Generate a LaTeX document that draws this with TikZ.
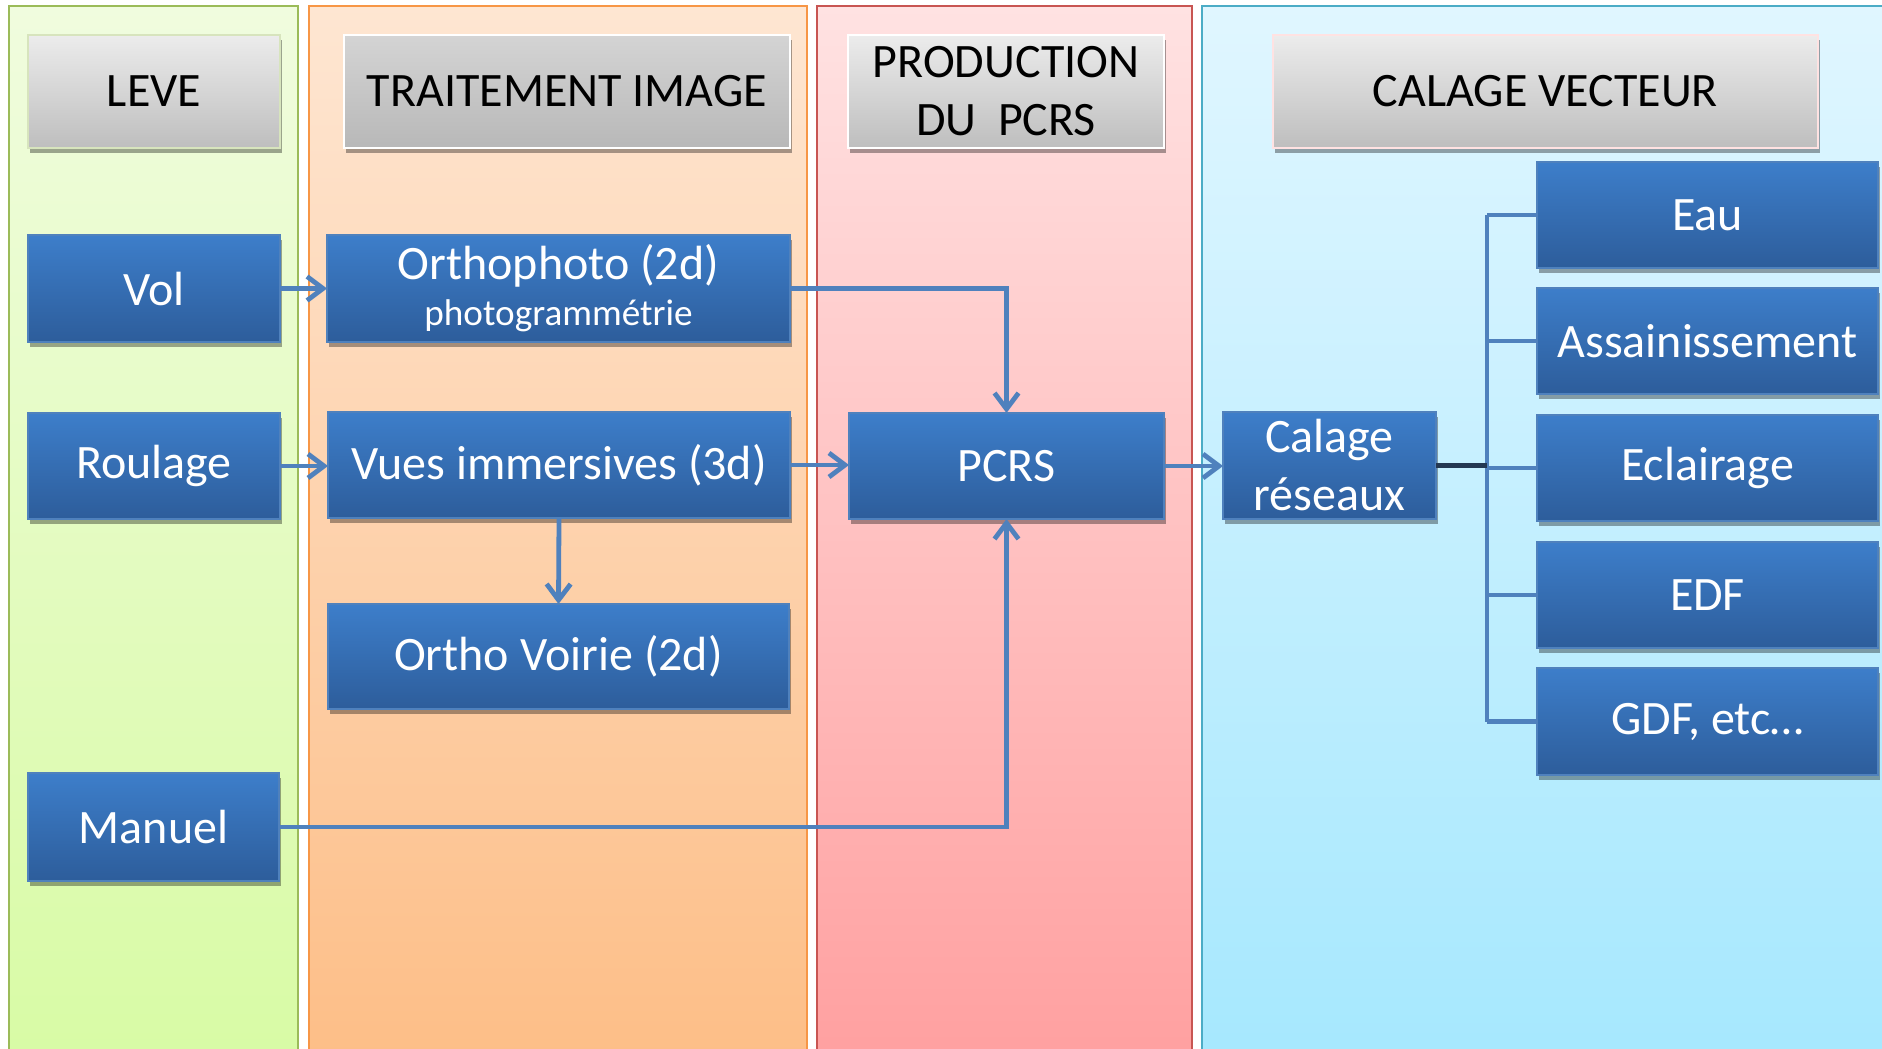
\documentclass[tikz,border=0pt]{standalone}
\usepackage{fontspec}
\setmainfont{Carlito}
\usetikzlibrary{arrows.meta,shadows,calc}
\definecolor{gtop}{RGB}{240,252,222}
\definecolor{gbot}{RGB}{216,251,165}
\definecolor{gedge}{RGB}{155,187,89}
\definecolor{otop}{RGB}{254,230,210}
\definecolor{obot}{RGB}{253,190,135}
\definecolor{oedge}{RGB}{247,150,70}
\definecolor{rtop}{RGB}{255,226,226}
\definecolor{rbot}{RGB}{255,160,160}
\definecolor{redge}{RGB}{200,85,82}
\definecolor{btop}{RGB}{224,246,255}
\definecolor{bbot}{RGB}{166,232,254}
\definecolor{bedge}{RGB}{75,172,198}
\definecolor{boxtop}{RGB}{61,126,202}
\definecolor{boxbot}{RGB}{45,93,155}
\definecolor{boxedge}{RGB}{79,129,189}
\definecolor{conn}{RGB}{79,129,189}
\definecolor{darkconn}{RGB}{36,56,82}
\definecolor{headtop}{RGB}{236,236,236}
\definecolor{headbot}{RGB}{190,190,190}
\definecolor{headtopB}{RGB}{212,212,212}
\definecolor{headbotB}{RGB}{184,184,184}
% \mybox{style}{name}{x1}{y1}{x2}{y2}{text}  (pixel coordinates)
\newcommand\mybox[7]{\node[#1, minimum width={(#5-#3)*0.5pt}, minimum height={(#6-#4)*0.5pt}] (#2) at ({(#3+#5)/2},{(#4+#6)/2}) {#7};}
\begin{document}
\begin{tikzpicture}[x=0.5pt,y=-0.5pt,
  lane/.style={line width=1pt},
  bluebox/.style={draw=boxedge, line width=0.8pt, top color=boxtop, bottom color=boxbot,
    text=white, font=\fontsize{24}{29}\selectfont, align=center, inner sep=0pt, outer sep=0pt,
    drop shadow={shadow xshift=0.8pt, shadow yshift=-2.5pt, opacity=0.35, fill=black}},
  headbox/.style={draw=#1, line width=1pt, top color=headtop, bottom color=headbot,
    text=black, font=\fontsize{24}{29}\selectfont, align=center, inner sep=0pt, outer sep=0pt,
    drop shadow={shadow xshift=0.8pt, shadow yshift=-2.5pt, opacity=0.35, fill=black}},
  link/.style={draw=conn, line width=2.4pt},
  arr/.style={link, -{Straight Barb[length=8pt,width=12pt]}}
]
\useasboundingbox (0,0) rectangle (1882,1048);
\clip (0,0) rectangle (1882,1048);
\fill[white] (0,0) rectangle (1882,1048);
% lanes
\path[lane, draw=gedge, top color=gtop, bottom color=gbot] (9,6) rectangle (298,1060);
\path[lane, draw=oedge, top color=otop, bottom color=obot] (309,6) rectangle (807,1060);
\path[lane, draw=redge, top color=rtop, bottom color=rbot] (817,6) rectangle (1192,1060);
\path[lane, draw=bedge, top color=btop, bottom color=bbot] (1202,6) rectangle (1900,1060);
% headers
\mybox{headbox=gedge!40}{hleve}{28}{35}{280}{148}{LEVE}
\mybox{headbox=white, top color=headtopB, bottom color=headbotB}{htrait}{344}{35}{790}{148}{TRAITEMENT IMAGE}
\mybox{headbox=white}{hprod}{848}{35}{1164}{148}{PRODUCTION\\DU\ \ PCRS}
\mybox{headbox=rtop}{hcal}{1273}{35}{1818}{148}{CALAGE VECTEUR}
% boxes
\mybox{bluebox}{vol}{28}{235}{280}{342}{Vol}
\mybox{bluebox}{ortho}{327}{235}{790}{342}{Orthophoto (2d)\\[-6pt]{\fontsize{18.6}{20}\selectfont photogrammétrie}}
\mybox{bluebox}{rou}{28}{413}{280}{519}{Roulage}
\mybox{bluebox}{vues}{328}{412}{790}{518}{Vues immersives (3d)}
\mybox{bluebox}{pcrs}{849}{413}{1164}{519}{PCRS}
\mybox{bluebox}{voirie}{328}{604}{789}{709}{Ortho Voirie (2d)}
\mybox{bluebox}{man}{28}{773}{279}{881}{Manuel}
\mybox{bluebox}{cal}{1223}{412}{1436}{519}{Calage\\réseaux}
\mybox{bluebox}{eau}{1537}{162}{1878}{268}{Eau}
\mybox{bluebox}{ass}{1537}{288}{1878}{394}{Assainissement}
\mybox{bluebox}{ecl}{1537}{415}{1878}{521}{Eclairage}
\mybox{bluebox}{edf}{1537}{542}{1878}{648}{EDF}
\mybox{bluebox}{gdf}{1537}{668}{1878}{775}{GDF, etc…}
% connectors
\draw[arr] (vol.east) -- (ortho.west);
\draw[arr] (rou.east) -- (rou.east -| vues.west);
\draw[arr] (vues.east) -- (vues.east -| pcrs.west);
\draw[arr] (ortho.east) -| (pcrs.north);
\draw[arr] (vues.south) -- (voirie.north);
\draw[arr] (man.east) -| (pcrs.south);
\draw[arr] (pcrs.east) -- (pcrs.east -| cal.west);
\coordinate (bus) at ($(cal.east)+(51,0)$);
\draw[link] (bus |- eau.west) -- (bus |- gdf.west);
\draw[link] (bus |- eau.west) -- (eau.west);
\draw[link] (bus |- ass.west) -- (ass.west);
\draw[link] (bus |- ecl.west) -- (ecl.west);
\draw[link] (bus |- edf.west) -- (edf.west);
\draw[link] (bus |- gdf.west) -- (gdf.west);
\draw[draw=darkconn, line width=2.4pt] (cal.east) -- (bus);
\end{tikzpicture}
\end{document}
